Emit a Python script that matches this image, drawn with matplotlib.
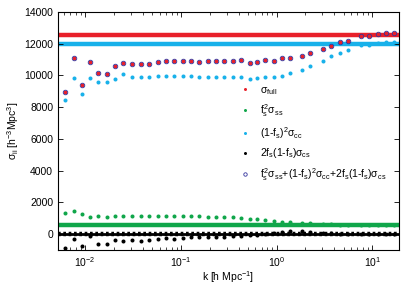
import numpy as np
from matplotlib import pyplot as plt

# k bins [h/Mpc]
log_k = [-2.209, -2.122, -2.034, -1.948, -1.861, -1.773, -1.686, -1.600,
         -1.512, -1.418, -1.331, -1.244, -1.156, -1.070, -0.983, -0.895,
         -0.808, -0.722, -0.634, -0.547, -0.460, -0.372, -0.283, -0.205,
         -0.119, -0.032, 0.056, 0.138, 0.265, 0.352, 0.485, 0.571, 0.658,
         0.746, 0.885, 0.968, 1.055, 1.143, 1.230]
k = 10.0 ** np.array(log_k)

sigma_full = [8950, 11090, 9430, 10857, 10146, 10083, 10605, 10813, 10712,
              10712, 10731, 10876, 10919, 10898, 10898, 10940, 10876, 10898,
              10898, 10898, 10898, 10961, 10772, 10876, 10982, 10919, 11090,
              11090, 11253, 11442, 11640, 11883, 12110, 12197, 12511, 12511,
              12640, 12700, 12700]
sigma_ss = [1340, 1484, 1252, 1063, 1151, 1088, 1151, 1151, 1126, 1126, 1151,
            1151, 1151, 1151, 1126, 1126, 1126, 1107, 1107, 1088, 1063, 1025,
            981, 937, 900, 855, 793, 793, 711, 686, 648, 623, 604, 604, 604,
            604, 604, 604, 604]
sigma_cc = [8466, 9870, 8844, 9850, 9599, 9599, 9808, 10102, 9913, 9934,
            9934, 9996, 9996, 9996, 9955, 9955, 9934, 9934, 9934, 9934, 9913,
            9913, 9766, 9829, 9892, 9892, 9976, 10146, 10374, 10625, 10919,
            11253, 11422, 11611, 11926, 11926, 12071, 12134, 12134]
sigma_cs = [-862, -296, -717, -132, -610, -591, -384, -447, -384, -447, -384,
            -277, -258, -277, -214, -195, -195, -170, -170, -151, -132, -88,
            -69, -44, -6, 57, 120, 182, 182, 145, 82, 57, 38, 38, 20, 20, 20,
            20, 20]
# sum of the three terms (same as full)
sigma_sum = sigma_full

# large-scale limits (horizontal lines)
full_lim = 12575
cc_lim = 12010
ss_lim = 560
cs_lim = 0

red = "#e8202a"
blue = "#18b1ea"
green = "#10a64a"
navy = "#34349e"

plt.rcParams["font.family"] = ["Liberation Sans", "DejaVu Sans"]
plt.rcParams["mathtext.fontset"] = "custom"
plt.rcParams["mathtext.rm"] = "Liberation Sans"
plt.rcParams["mathtext.it"] = "Liberation Sans"
plt.rcParams["font.size"] = 7.5

fig = plt.figure(figsize=(4.07, 2.84), dpi=100)
ax = fig.add_axes([58 / 407, 34 / 284, 341 / 407, 238 / 284])

# horizontal limits
ax.axhline(full_lim, color=red, lw=3.2, zorder=1)
ax.axhline(cc_lim, color=blue, lw=3.2, zorder=1)
ax.axhline(ss_lim, color=green, lw=3.2, zorder=1)
ax.axhline(cs_lim, color="black", lw=2.0, zorder=1)
ax.axhline(cs_lim, color="black", lw=3.2, ls=(0, (0.6, 0.6)), zorder=1)

ms = 2.9
ax.plot(k, sigma_full, "o", color=red, ms=ms, mec="none", zorder=3,
        label=r"$\sigma_{\rm full}$")
ax.plot(k, sigma_ss, "o", color=green, ms=ms, mec="none", zorder=3,
        label=r"$f_s^2\sigma_{ss}$")
ax.plot(k, sigma_cc, "o", color=blue, ms=ms, mec="none", zorder=3,
        label=r"$(1$-$f_s)^2\sigma_{cc}$")
ax.plot(k, sigma_cs, "o", color="black", ms=ms, mec="none", zorder=3,
        label=r"$2f_s(1$-$f_s)\sigma_{cs}$")
ax.plot(k, sigma_sum, "o", mfc="none", mec=navy, mew=0.6, ms=ms + 0.4,
        zorder=4,
        label=r"$f_s^2\sigma_{ss}$+$(1$-$f_s)^2\sigma_{cc}$+$2f_s(1$-$f_s)\sigma_{cs}$")

ax.set_xscale("log")
ax.set_xlim(0.0052, 19)
ax.set_ylim(-1000, 14000)
ax.set_yticks(np.arange(0, 14001, 2000))
ax.tick_params(which="both", direction="in", top=True, right=True,
               labelsize=7.5)
ax.tick_params(which="major", length=3.5, width=0.6)
ax.tick_params(which="minor", length=2, width=0.5)
ax.tick_params(axis="x", pad=4)
for s in ax.spines.values():
    s.set_linewidth(0.8)

ax.set_xlabel(r"k [h Mpc$^{-1}$]", fontsize=7.5, labelpad=0)
ax.set_ylabel(r"$\sigma_{ii}$ [h$^{-3}$Mpc$^3$]", fontsize=7.5, labelpad=2)

ax.legend(loc="upper left", bbox_to_anchor=(0.515, 0.725), frameon=False,
          handlelength=0.8, handletextpad=1.0, labelspacing=0.55,
          fontsize=7.5, borderpad=0.2, markerscale=0.75)

fig.savefig("out.png", dpi=100)
